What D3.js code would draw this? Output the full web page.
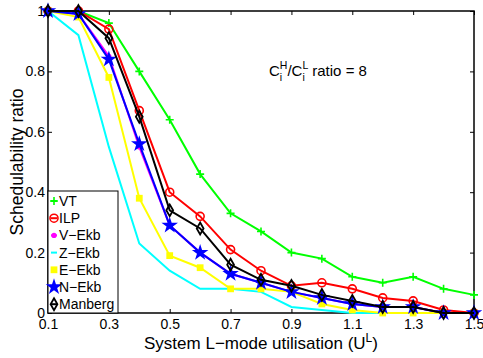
<!DOCTYPE html>
<html>
<head>
<meta charset="utf-8">
<script src="https://cdn.jsdelivr.net/npm/d3@7"></script>
<style>
  body { margin: 0; background: #fff; }
  svg { font-family: "Liberation Sans", Arial, sans-serif; }
</style>
</head>
<body>
<svg id="chart" width="483" height="358"></svg>
<script>
// utilisation values on the x axis
const utilisation = [0.1, 0.2, 0.3, 0.4, 0.5, 0.6, 0.7, 0.8, 0.9, 1.0, 1.1, 1.2, 1.3, 1.4, 1.5];

// schedulability ratio per method
const vt = [1, 1, 0.96, 0.80, 0.64, 0.46, 0.33, 0.27, 0.20, 0.18, 0.12, 0.10, 0.12, 0.08, 0.06];
const ilp = [1, 1, 0.94, 0.67, 0.40, 0.32, 0.21, 0.14, 0.09, 0.10, 0.08, 0.05, 0.04, 0.01, 0];
const vEkb = [1, 0.99, 0.85, 0.55, 0.29, 0.20, 0.13, 0.10, 0.07, 0.05, 0.03, 0.02, 0.02, 0, 0];
const zEkb = [1, 0.92, 0.55, 0.23, 0.14, 0.08, 0.08, 0.07, 0.02, 0.01, 0, 0, 0, 0, 0];
const eEkb = [1, 0.98, 0.78, 0.38, 0.19, 0.15, 0.08, 0.08, 0.07, 0.03, 0.01, 0, 0, 0, 0];
const nEkb = [1, 0.99, 0.84, 0.56, 0.29, 0.20, 0.13, 0.10, 0.07, 0.05, 0.03, 0.02, 0.02, 0, 0];
const manberg = [1, 1, 0.91, 0.65, 0.34, 0.28, 0.16, 0.11, 0.09, 0.06, 0.04, 0.02, 0.02, 0, 0];

const seriesNames = ["VT", "ILP", "V\u2212Ekb", "Z\u2212Ekb", "E\u2212Ekb", "N\u2212Ekb", "Manberg"];
const seriesValues = [vt, ilp, vEkb, zEkb, eEkb, nEkb, manberg];

const xTicks = [0.1, 0.3, 0.5, 0.7, 0.9, 1.1, 1.3, 1.5];
const yTicks = [0, 0.2, 0.4, 0.6, 0.8, 1];

const styles = [
  { color: "#00ff00", marker: "plus" },
  { color: "#ff0000", marker: "circle" },
  { color: "#ff00ff", marker: "dot" },
  { color: "#00ffff", marker: "none" },
  { color: "#ffff00", marker: "square" },
  { color: "#0000ff", marker: "star" },
  { color: "#000000", marker: "diamond" }
];

const svg = d3.select("#chart");
const margin = { top: 11, right: 9, bottom: 45, left: 48 };
const width = svg.attr("width") - margin.left - margin.right;
const height = svg.attr("height") - margin.top - margin.bottom;

const g = svg.append("g").attr("transform", `translate(${margin.left},${margin.top})`);

const x = d3.scaleLinear().domain([0.1, 1.5]).range([0, width]);
const y = d3.scaleLinear().domain([0, 1]).range([height, 0]);

// box + inward ticks (matlab style)
g.append("rect")
  .attr("width", width)
  .attr("height", height)
  .attr("fill", "none")
  .attr("stroke", "#000")
  .attr("stroke-width", 1.5);

function styleAxis(sel) {
  sel.select(".domain").remove();
  sel.selectAll(".tick line").attr("stroke", "#000").attr("stroke-width", 1);
  sel.selectAll("text").attr("fill", "#000").style("font-size", "14px");
}

g.append("g")
  .attr("transform", `translate(0,${height})`)
  .call(d3.axisBottom(x).tickValues(xTicks).tickSize(-4).tickPadding(6).tickFormat(d3.format(".1f")))
  .call(styleAxis);

g.append("g")
  .call(d3.axisTop(x).tickValues(xTicks).tickSize(-4).tickFormat(""))
  .call(styleAxis);

g.append("g")
  .call(d3.axisLeft(y).tickValues(yTicks).tickSize(-4).tickPadding(3).tickFormat(d3.format("~g")))
  .call(styleAxis);

g.append("g")
  .attr("transform", `translate(${width},0)`)
  .call(d3.axisRight(y).tickValues(yTicks).tickSize(-4).tickFormat(""))
  .call(styleAxis);

// markers
function drawMarker(sel, type, color) {
  if (type === "plus") {
    sel.append("path").attr("d", "M-4,0H4M0,-4V4")
      .attr("stroke", color).attr("stroke-width", 1.6).attr("fill", "none");
  } else if (type === "circle") {
    sel.append("circle").attr("r", 4)
      .attr("stroke", color).attr("stroke-width", 1.6).attr("fill", "none");
  } else if (type === "dot") {
    sel.append("circle").attr("r", 2.6).attr("fill", color);
  } else if (type === "square") {
    sel.append("path").attr("d", d3.symbol(d3.symbolSquare, 46)()).attr("fill", color);
  } else if (type === "star") {
    sel.append("path").attr("d", d3.symbol(d3.symbolStar, 85)()).attr("fill", color);
  } else if (type === "diamond") {
    sel.append("path").attr("d", d3.symbol(d3.symbolDiamond, 40)())
      .attr("stroke", color).attr("stroke-width", 1.8).attr("fill", "none");
  }
}

const line = d3.line()
  .x((d, i) => x(utilisation[i]))
  .y((d) => y(d));

seriesValues.forEach((values, k) => {
  const s = styles[k];
  const sg = g.append("g");
  sg.append("path")
    .datum(values)
    .attr("d", line)
    .attr("fill", "none")
    .attr("stroke", s.color)
    .attr("stroke-width", 2);
  sg.selectAll(".m")
    .data(values)
    .enter()
    .append("g")
    .attr("transform", (d, i) => `translate(${x(utilisation[i])},${y(d)})`)
    .each(function () { drawMarker(d3.select(this), s.marker, s.color); });
});

// legend
const legend = g.append("g");
const rowH = 17.2;
legend.append("rect")
  .attr("x", 0)
  .attr("y", height - 122)
  .attr("width", 70)
  .attr("height", 122)
  .attr("fill", "#fff")
  .attr("stroke", "#000")
  .attr("stroke-width", 1);

seriesNames.forEach((name, k) => {
  const cy = height - 112 + k * rowH;
  const row = legend.append("g").attr("transform", `translate(0,${cy})`);
  row.append("line")
    .attr("x1", 3).attr("x2", 9)
    .attr("stroke", styles[k].color).attr("stroke-width", 2);
  drawMarker(row.append("g").attr("transform", "translate(6,0)"), styles[k].marker, styles[k].color);
  row.append("text")
    .attr("x", 11)
    .attr("y", 5)
    .style("font-size", "14px")
    .text(name);
});

// axis titles
svg.append("text")
  .attr("x", margin.left + width / 2)
  .attr("y", 349)
  .attr("text-anchor", "middle")
  .style("font-size", "17px")
  .text("System L\u2212mode utilisation (U")
  .call((t) => {
    t.append("tspan").attr("dy", -7).style("font-size", "12px").text("L");
    t.append("tspan").attr("dy", 7).text(")");
  });

svg.append("text")
  .attr("transform", `translate(23,${margin.top + height / 2}) rotate(-90)`)
  .attr("text-anchor", "middle")
  .style("font-size", "17.5px")
  .text("Schedulability ratio");

// annotation C_i^H / C_i^L ratio = 8
const ann = svg.append("g").attr("transform", "translate(269,76)");
let cx = 0;
function piece(txt, size, dy) {
  const t = ann.append("text").attr("x", cx).attr("y", dy)
    .style("font-size", size + "px").style("white-space", "pre").text(txt);
  return t.node().getComputedTextLength();
}
cx += piece("C", 15, 0);
const wH = piece("H", 10.5, -7);
const wi = piece("i", 10.5, 5);
cx += Math.max(wH, wi);
cx += piece("/C", 15, 0);
const wL = piece("L", 10.5, -7);
piece("i", 10.5, 5);
cx += wL + 4;
piece("ratio = 8", 15, 0);
</script>
</body>
</html>
